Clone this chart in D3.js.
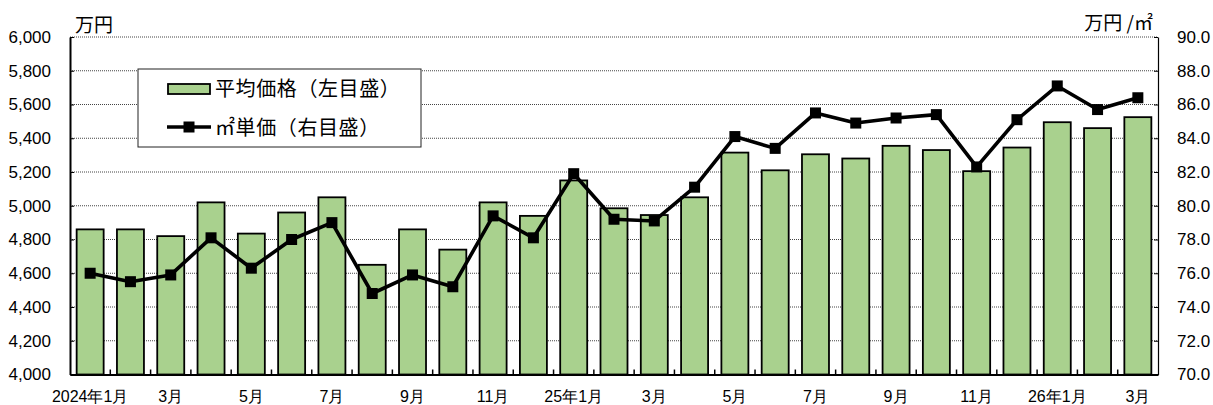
<!DOCTYPE html>
<html>
<head>
<meta charset="utf-8">
<script src="https://cdn.jsdelivr.net/npm/d3@7"></script>
<style>
  body { margin: 0; padding: 0; background: #fff; }
  svg { display: block; font-family: 'Noto Sans CJK JP', 'Noto Sans', sans-serif; }
  .grid line { stroke: #444; stroke-width: 1; stroke-dasharray: 1,1; }
  .axis path, .axis line { stroke: #000; }
  .axis text { fill: #000; }
</style>
</head>
<body>
<svg id="chart" width="1213" height="405"></svg>
<script>
const months = ['2024年1月', '2月', '3月', '4月', '5月', '6月', '7月', '8月', '9月', '10月', '11月', '12月',
  '25年1月', '2月', '3月', '4月', '5月', '6月', '7月', '8月', '9月', '10月', '11月', '12月',
  '26年1月', '2月', '3月']
const avgPrice = [4860, 4860, 4820, 5020, 4835, 4960, 5050, 4650, 4860, 4740, 5020, 4940,
  5150, 4985, 4945, 5050, 5315, 5210, 5305, 5280, 5355, 5330, 5205, 5345,
  5495, 5460, 5525]
const unitPrice = [76.0, 75.5, 75.9, 78.1, 76.3, 78.0, 79.0, 74.8, 75.9, 75.2, 79.4, 78.1,
  81.9, 79.2, 79.1, 81.1, 84.1, 83.4, 85.5, 84.9, 85.2, 85.4, 82.3, 85.1,
  87.1, 85.7, 86.4]
const leftTicks = d3.range(4000, 6001, 200)
const rightTicks = d3.range(70, 90.1, 2)
const legendLabels = ['平均価格（左目盛）', '㎡単価（右目盛）']

const margin = {top: 37, right: 55, bottom: 30.5, left: 70}
const width = 1213
const height = 405
const plotW = width - margin.left - margin.right
const plotH = height - margin.top - margin.bottom

const svg = d3.select('#chart')
const g = svg.append('g').attr('transform', `translate(${margin.left},${margin.top})`)

const x = d3.scaleBand()
  .domain(d3.range(months.length))
  .range([0, plotW])
  .paddingInner(0.33)
  .paddingOuter(0.165)
const yL = d3.scaleLinear().domain([4000, 6000]).range([plotH, 0])
const yR = d3.scaleLinear().domain([70, 90]).range([plotH, 0])

// dotted gridlines
g.append('g').attr('class', 'grid')
  .selectAll('line')
  .data(leftTicks.slice(1))
  .enter().append('line')
  .attr('x1', 0).attr('x2', plotW)
  .attr('y1', d => yL(d)).attr('y2', d => yL(d))

// bars
g.append('g')
  .selectAll('rect')
  .data(avgPrice)
  .enter().append('rect')
  .attr('x', (d, i) => x(i))
  .attr('y', d => yL(d))
  .attr('width', x.bandwidth())
  .attr('height', d => yL(4000) - yL(d))
  .attr('fill', '#a9d18e')
  .attr('stroke', '#000')
  .attr('stroke-width', 1.8)

// left axis
const axL = g.append('g').attr('class', 'axis')
  .call(d3.axisLeft(yL).tickValues(leftTicks).tickFormat(d3.format(',')).tickSize(-4).tickPadding(19).tickSizeOuter(0))
axL.select('.domain').attr('stroke-width', 2)
axL.selectAll('text').style('font-size', '17px')

// right axis
const axR = g.append('g').attr('class', 'axis')
  .attr('transform', `translate(${plotW},0)`)
  .call(d3.axisRight(yR).tickValues(rightTicks).tickFormat(d3.format('.1f')).tickSize(-4).tickPadding(19).tickSizeOuter(0))
axR.select('.domain').attr('stroke-width', 1.2)
axR.selectAll('text').style('font-size', '17px')

// bottom axis, labels every other month
const axB = g.append('g').attr('class', 'axis')
  .attr('transform', `translate(0,${plotH})`)
  .call(d3.axisBottom(x).tickSize(0).tickPadding(16).tickSizeOuter(0)
    .tickFormat(i => i % 2 === 0 ? months[i] : ''))
axB.select('.domain').attr('stroke-width', 2)
axB.selectAll('text').style('font-size', '16px')

// small ticks between categories
const step = x.step()
g.append('g')
  .selectAll('line')
  .data(d3.range(1, months.length))
  .enter().append('line')
  .attr('x1', i => x(i) - step * x.paddingInner() / 2)
  .attr('x2', i => x(i) - step * x.paddingInner() / 2)
  .attr('y1', plotH).attr('y2', plotH - 5)
  .attr('stroke', '#000').attr('stroke-width', 1.5)

// unit price line
const line = d3.line()
  .x((d, i) => x(i) + x.bandwidth() / 2)
  .y(d => yR(d))
g.append('path')
  .datum(unitPrice)
  .attr('d', line)
  .attr('fill', 'none')
  .attr('stroke', '#000')
  .attr('stroke-width', 3.6)
  .attr('stroke-linejoin', 'round')

g.append('g')
  .selectAll('rect')
  .data(unitPrice)
  .enter().append('rect')
  .attr('x', (d, i) => x(i) + x.bandwidth() / 2 - 5.5)
  .attr('y', d => yR(d) - 5.5)
  .attr('width', 11).attr('height', 11)
  .attr('fill', '#000')

// unit labels
svg.append('text').attr('x', 75).attr('y', 32).style('font-size', '19px').text('万円')
svg.append('text').attr('x', 1153).attr('y', 30).attr('text-anchor', 'end').style('font-size', '19px').text('万円 /㎡')

// legend
const lg = svg.append('g').attr('transform', 'translate(138,69)')
lg.append('rect')
  .attr('width', 283).attr('height', 78)
  .attr('fill', '#fff').attr('stroke', '#222').attr('stroke-width', 1)
lg.append('rect')
  .attr('x', 30).attr('y', 15).attr('width', 42).attr('height', 10)
  .attr('fill', '#a9d18e').attr('stroke', '#000').attr('stroke-width', 1.8)
lg.append('line')
  .attr('x1', 29).attr('x2', 73).attr('y1', 58).attr('y2', 58)
  .attr('stroke', '#000').attr('stroke-width', 3.6)
lg.append('rect')
  .attr('x', 45.5).attr('y', 52.5).attr('width', 11).attr('height', 11).attr('fill', '#000')
lg.selectAll('text.lab')
  .data(legendLabels)
  .enter().append('text')
  .attr('class', 'lab')
  .attr('x', 77)
  .attr('y', (d, i) => 27 + i * 39)
  .style('font-size', '20px')
  .style('letter-spacing', '0.6px')
  .text(d => d)
</script>
</body>
</html>
